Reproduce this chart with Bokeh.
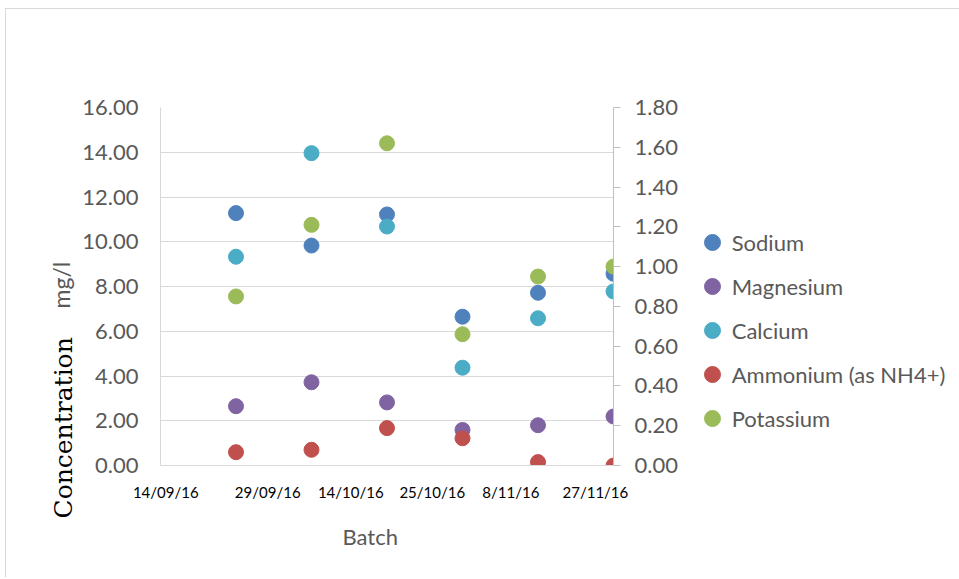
from bokeh.plotting import figure
from bokeh.models import (Range1d, LinearAxis, FixedTicker, Legend, Title,
                          LegendItem, NumeralTickFormatter)
from bokeh.embed import file_html
from bokeh.resources import INLINE

# ---------------- data ----------------
batch_index = [1, 2, 3, 4, 5, 6]
batch_labels = ["14/09/16", "29/09/16", "14/10/16", "25/10/16", "8/11/16", "27/11/16"]
left_ticks = [0, 2, 4, 6, 8, 10, 12, 14, 16]
right_ticks = [0.0, 0.2, 0.4, 0.6, 0.8, 1.0, 1.2, 1.4, 1.6, 1.8]

sodium = [11.28, 9.83, 11.22, 6.65, 7.72, 8.57]        # mg/l, left axis
magnesium = [2.65, 3.72, 2.82, 1.59, 1.80, 2.19]       # mg/l, left axis
calcium = [9.33, 13.96, 10.68, 4.37, 6.58, 7.78]       # mg/l, left axis
ammonium = [0.067, 0.079, 0.188, 0.137, 0.017, 0.0]    # mg/l, right axis
potassium = [0.85, 1.21, 1.62, 0.66, 0.95, 1.00]       # mg/l, right axis

series_names = ["Sodium", "Magnesium", "Calcium", "Ammonium (as NH4+)", "Potassium"]
series_colors = ["#4f81bd", "#8064a2", "#4bacc6", "#c0504d", "#9bbb59"]

# label positions on the category axis (layout)
label_pos = [0.07, 1.42, 2.52, 3.6, 4.64, 5.76]

FONT = "Lato"
GRAY = "#595959"

p = figure(frame_width=453, frame_height=358, x_range=Range1d(0, 6), y_range=Range1d(0, 16),
           output_backend="svg", toolbar_location=None,
           min_border_left=154, min_border_right=343, min_border_top=98,
           min_border_bottom=112)
p.margin = (8, 0, 0, 5)
p.extra_y_ranges = {"right": Range1d(0, 1.8)}
p.outline_line_color = None
p.background_fill_color = "white"
p.border_fill_color = "white"
p.styles = {"border-top": "1px solid #d9d9d9", "border-left": "1px solid #d9d9d9"}

# grid
p.xgrid.visible = False
p.ygrid.grid_line_color = "#d9d9d9"
p.ygrid.ticker = FixedTicker(ticks=left_ticks)

# left axis
ya = p.yaxis[0]
ya.ticker = FixedTicker(ticks=left_ticks)
ya.formatter = NumeralTickFormatter(format="0.00")
ya.axis_line_color = "#d9d9d9"
ya.major_tick_line_color = None
ya.minor_tick_line_color = None
ya.major_tick_out = 0
ya.major_tick_in = 0
ya.major_label_standoff = 22
ya.major_label_text_font = FONT
ya.major_label_text_font_size = "22px"
ya.major_label_text_color = GRAY

# right axis
ra = LinearAxis(y_range_name="right", ticker=FixedTicker(ticks=right_ticks),
                formatter=NumeralTickFormatter(format="0.00"))
ra.axis_line_color = "#bfbfbf"
ra.major_tick_line_color = "#bfbfbf"
ra.minor_tick_line_color = None
ra.major_tick_out = 7
ra.major_tick_in = 0
ra.major_label_standoff = 14
ra.major_label_text_font = FONT
ra.major_label_text_font_size = "22px"
ra.major_label_text_color = GRAY
p.add_layout(ra, "right")

# bottom axis
xa = p.xaxis[0]
xa.ticker = FixedTicker(ticks=label_pos)
xa.major_label_overrides = {pos: lab for pos, lab in zip(label_pos, batch_labels)}
xa.axis_line_color = "#d9d9d9"
xa.major_tick_line_color = None
xa.minor_tick_line_color = None
xa.major_tick_out = 0
xa.major_tick_in = 0
xa.major_label_standoff = 17
xa.major_label_text_font = FONT
xa.major_label_text_font_size = "15px"
xa.major_label_text_color = "black"

# series
data = [(sodium, "default"), (magnesium, "default"), (calcium, "default"),
        (ammonium, "right"), (potassium, "right")]
renderers = []
for (vals, rng), col in zip(data, series_colors):
    r = p.scatter(batch_index, vals, size=15, color=col, line_color=col,
                  y_range_name=rng)
    renderers.append(r)

legend = Legend(items=[LegendItem(label=n, renderers=[r]) for n, r in zip(series_names, renderers)],
                location=(-219, 27), orientation="vertical",
                glyph_width=40, glyph_height=40, label_height=40,
                label_standoff=0, spacing=4, padding=0, margin=0,
                border_line_color=None, background_fill_alpha=0,
                label_text_font=FONT, label_text_font_size="22px",
                label_text_color=GRAY)
p.add_layout(legend, "right")

# axis titles
t_conc = Title(text="Concentration", align="left", offset=-53, standoff=4,
               text_font="DejaVu Serif", text_font_size="25px",
               text_font_style="normal", text_color="black")
p.add_layout(t_conc, "left")
t_unit = Title(text="mg/l", align="left", offset=157, standoff=-60,
               text_font=FONT, text_font_size="23px",
               text_font_style="normal", text_color=GRAY)
p.add_layout(t_unit, "left")
t_batch = Title(text="Batch", align="left", offset=182, standoff=38,
                vertical_align="top", text_font=FONT, text_font_size="22px",
                text_font_style="normal", text_color=GRAY)
p.add_layout(t_batch, "below")

open("out.html", "w").write(file_html(p, INLINE))
